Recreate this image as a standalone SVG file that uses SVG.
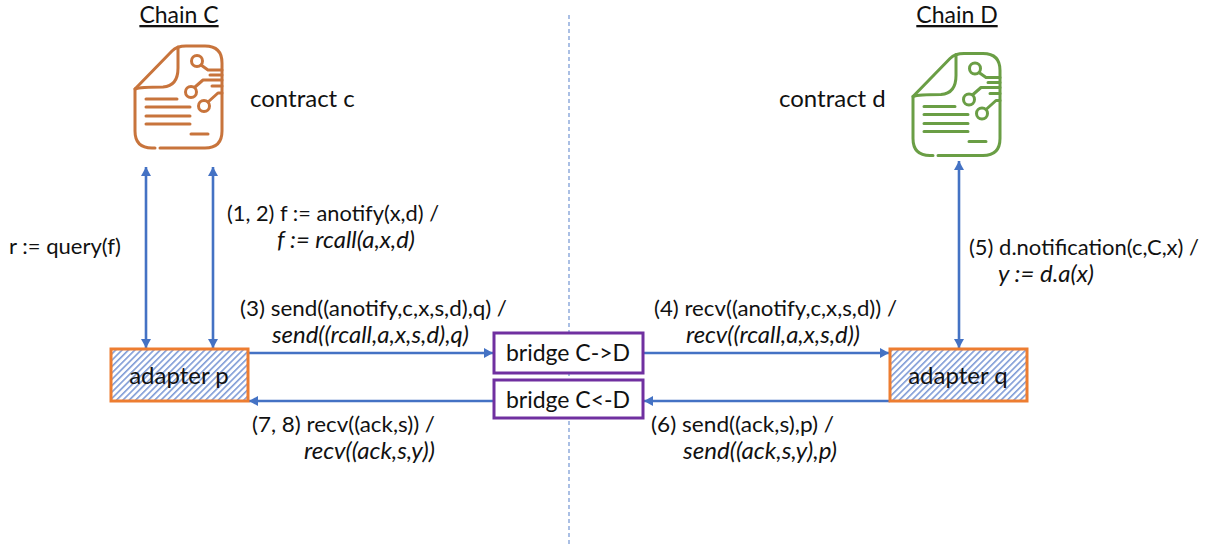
<svg xmlns="http://www.w3.org/2000/svg" width="1215" height="546" viewBox="0 0 1215 546">
<style>
text{font-family:"Lato","Liberation Sans",sans-serif;font-size:22px;fill:#111}
.i{font-style:italic;font-size:23px}
.h{font-size:23px;text-decoration:underline}
.n{font-size:24px}
.a{font-size:24px}
.b{font-size:23px}
.c{fill:none;stroke:#4472c4;stroke-width:2.6px}
.d{fill:none;stroke:#8faadc;stroke-width:1.5px;stroke-dasharray:4 3}
.ad{fill:url(#hatch);stroke:#ed7d31;stroke-width:3px}
.br{fill:#fff;stroke:#7030a0;stroke-width:3px}
.ic{fill:none;stroke-width:3px;stroke-linecap:round;stroke-linejoin:round}
</style>
<defs>
<pattern id="hatch" width="4.5" height="4.5" patternUnits="userSpaceOnUse" patternTransform="rotate(-45)">
<rect width="4.5" height="4.5" fill="#fff"/><rect width="4.5" height="1.6" fill="#7f9bd6"/>
</pattern>
<marker id="a" markerWidth="12" markerHeight="12" refX="9" refY="5" orient="auto-start-reverse" markerUnits="userSpaceOnUse"><path d="M0 0L9 5L0 10z" fill="#4472c4"/></marker>
<symbol id="doc" overflow="visible">
<path d="M155 148H152Q135 148 135 131V89L172 51Q177 46 186 46H205Q222 46 222 63V131Q222 148 205 148H160"/>
<path d="M135 89Q140 87 163 87Q178 86 178 68V47"/>
<circle cx="197" cy="61" r="5.5"/><circle cx="191" cy="92" r="5.5"/><circle cx="204" cy="106" r="5.5"/>
<path d="M201 65L208 70H222M195 87L203 80H222M208 102L218 93H222M210 75H222M212 86H222"/>
<path d="M146 99H177M146 107H190M146 116H190M146 124H190M191 134H208"/>
</symbol>
</defs>
<line class="d" x1="569" y1="15" x2="569" y2="545"/>
<g id="connectors">
<path class="c" d="M146 167V348" marker-start="url(#a)" marker-end="url(#a)"/>
<path class="c" d="M213 167V348" marker-start="url(#a)" marker-end="url(#a)"/>
<path class="c" d="M959 161V348" marker-start="url(#a)" marker-end="url(#a)"/>
<path class="c" d="M248 353H493" marker-end="url(#a)"/>
<path class="c" d="M643 353H889" marker-end="url(#a)"/>
<path class="c" d="M890 401H644" marker-end="url(#a)"/>
<path class="c" d="M494 401H249" marker-end="url(#a)"/>
</g>
<g id="chain-c"><text class="h" x="179" y="23" text-anchor="middle">Chain C</text></g>
<g id="chain-d"><text class="h" x="957" y="23" text-anchor="middle">Chain D</text></g>
<g id="contract-c"><use href="#doc" class="ic" stroke="#c8743c"/><text class="n" x="250" y="107">contract c</text></g>
<g id="contract-d"><use href="#doc" class="ic" stroke="#6a9e45" transform="translate(778 7.5)"/><text class="n" x="779" y="107">contract d</text></g>
<g id="adapter-p"><rect class="ad" x="111" y="349" width="137" height="52"/><text class="a" x="179" y="384" text-anchor="middle">adapter p</text></g>
<g id="adapter-q"><rect class="ad" x="890" y="349" width="137" height="52"/><text class="a" x="958" y="384" text-anchor="middle">adapter q</text></g>
<g id="bridge-cd"><rect class="br" x="494" y="333" width="149" height="40"/><text class="b" x="568" y="361" text-anchor="middle">bridge C-&gt;D</text></g>
<g id="bridge-dc"><rect class="br" x="494" y="380" width="149" height="38"/><text class="b" x="568" y="408" text-anchor="middle">bridge C&lt;-D</text></g>
<g id="labels">
<text x="9" y="254" textLength="112" lengthAdjust="spacingAndGlyphs">r := query(f)</text>
<text x="227" y="221" textLength="212" lengthAdjust="spacingAndGlyphs">(1, 2) f := anotify(x,d) /</text>
<text class="i" x="277" y="248" textLength="138" lengthAdjust="spacingAndGlyphs">f := rcall(a,x,d)</text>
<text x="240" y="316" textLength="267" lengthAdjust="spacingAndGlyphs">(3) send((anotify,c,x,s,d),q) /</text>
<text class="i" x="272" y="343" textLength="197" lengthAdjust="spacingAndGlyphs">send((rcall,a,x,s,d),q)</text>
<text x="654" y="316" textLength="243" lengthAdjust="spacingAndGlyphs">(4) recv((anotify,c,x,s,d)) /</text>
<text class="i" x="686" y="343" textLength="174" lengthAdjust="spacingAndGlyphs">recv((rcall,a,x,s,d))</text>
<text x="969" y="255" textLength="230" lengthAdjust="spacingAndGlyphs">(5) d.notification(c,C,x) /</text>
<text class="i" x="998" y="282" textLength="96" lengthAdjust="spacingAndGlyphs">y := d.a(x)</text>
<text x="252" y="432" textLength="183" lengthAdjust="spacingAndGlyphs">(7, 8) recv((ack,s)) /</text>
<text class="i" x="304" y="459" textLength="131" lengthAdjust="spacingAndGlyphs">recv((ack,s,y))</text>
<text x="651" y="432" textLength="183" lengthAdjust="spacingAndGlyphs">(6) send((ack,s),p) /</text>
<text class="i" x="683" y="459" textLength="154" lengthAdjust="spacingAndGlyphs">send((ack,s,y),p)</text>
</g>
</svg>
